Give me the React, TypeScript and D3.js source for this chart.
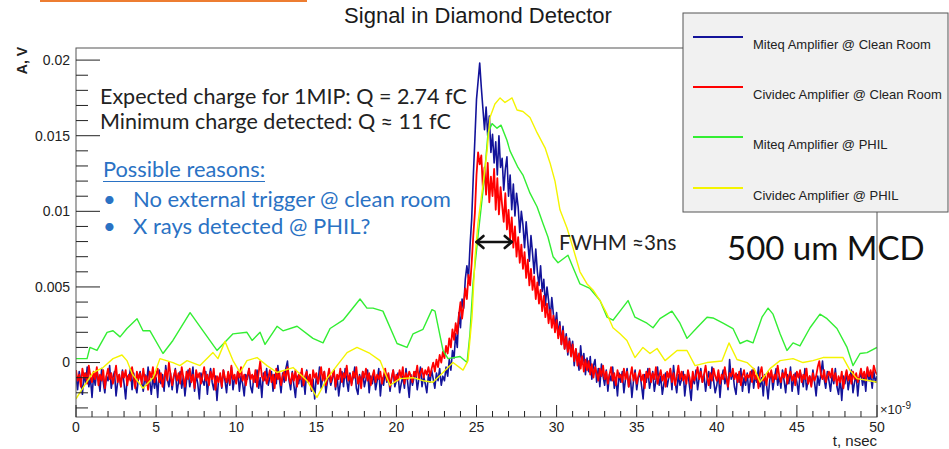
import React from 'react';
import * as d3 from 'd3';

// Oscilloscope traces, amplitude in mV, sampled every 0.1 ns from t = 0 (one row per ns)
const SAMPLE_STEP_NS = 0.1;

const miteqCleanRoom = [
  -0.9, -1.8, -0.6, -1.2, -2.1, -0.7, -1.4, -0.3, -1.6, -1.0,
  -2.3, -0.8, -1.5, -0.5, -1.1, -1.9, -0.4, -1.3, -2.0, -0.9,
  -1.2, -0.2, -1.7, -1.0, -0.6, -2.2, -1.3, -0.8, -1.6, -0.5,
  -1.4, -2.4, -0.9, -1.1, -0.4, -1.8, -0.7, -1.5, -2.0, -1.0,
  -0.6, -1.3, -1.9, -0.8, -1.5, -0.3, -1.2, -2.1, -0.9, -1.7,
  -1.0, -2.3, -0.5, -1.4, -0.8, -1.9, -0.2, -1.1, -1.6, -0.7,
  -1.8, -1.0, -0.4, -2.0, -1.3, -0.6, -1.7, -0.9, -2.2, -1.2,
  -0.5, -1.6, -1.1, -0.3, -1.9, -0.8, -1.4, -2.4, -0.7, -1.2,
  -1.5, -0.6, -2.1, -1.0, -0.4, -1.3, -1.8, -0.9, -2.5, -1.1,
  -0.8, -1.7, -0.5, -1.2, -2.0, -0.7, -1.5, -0.3, -1.8, -1.0,
  -1.3, -0.6, -1.9, -0.9, -1.4, -2.2, -0.8, -1.1, -0.4, -1.6,
  -2.0, -0.9, -1.3, -0.5, -1.7, -1.0, -2.3, -0.7, -1.2, -0.4,
  -1.5, -1.0, -0.6, -1.9, -0.8, -1.4, -0.2, -1.1, -2.0, -0.7,
  -1.3, -0.4, 0.1, -1.2, -1.8, -0.6, -1.5, -2.3, -0.9, -1.4,
  -0.7, -1.6, -1.0, -2.1, -0.5, -1.3, -0.8, -1.9, -1.1, -2.4,
  -0.9, -1.4, -0.3, -1.7, -1.0, -0.6, -2.0, -1.2, -0.8, -1.5,
  -1.1, -0.5, -1.8, -0.9, -2.2, -1.3, -0.6, -1.6, -0.4, -1.2,
  -1.9, -0.7, -1.4, -1.0, -0.3, -1.7, -2.1, -0.8, -1.3, -0.6,
  -1.6, -1.1, -0.5, -2.0, -0.9, -1.4, -0.7, -1.8, -1.2, -0.4,
  -2.2, -1.0, -1.5, -0.6, -1.3, -0.8, -1.9, -1.1, -0.5, -1.6,
  -1.2, -0.7, -2.0, -1.4, -0.9, -1.7, -0.4, -1.3, -2.3, -0.8,
  -1.5, -1.0, -0.6, -1.8, -1.1, -0.3, -1.6, -0.9, -1.4, -2.0,
  -0.8, -1.3, -0.5, -1.1, -1.7, -0.7, -1.2, -0.4, -1.5, -0.9,
  -1.2, -0.3, -0.9, 0.2, -0.5, 0.8, 0.3, 1.9, 1.0, 3.3,
  2.3, 4.2, 3.6, 5.5, 6.4, 5.6, 7.8, 9.5, 12.3, 14.8,
  17.4, 18.6, 19.8, 18.2, 16.8, 15.4, 16.9, 15.0, 16.3, 13.9,
  15.1, 13.2, 14.6, 12.4, 15.0, 12.9, 13.5, 11.4, 12.8, 13.6,
  11.0, 12.4, 10.1, 11.8, 9.7, 11.2, 10.3, 8.6, 10.0, 9.1,
  7.6, 9.3, 8.0, 6.7, 8.4, 7.2, 5.9, 7.5, 6.0, 5.1,
  6.4, 4.7, 5.5, 3.8, 5.0, 4.1, 2.9, 4.3, 3.2, 2.4,
  3.3, 1.8, 2.7, 1.2, 2.4, 0.9, 1.9, 0.5, 1.6, 0.8,
  1.4, -0.2, 0.9, 0.3, -0.5, 1.1, -0.1, 0.6, -0.8, 0.3,
  -0.6, 0.4, -1.1, -0.2, 0.2, -1.3, -0.4, -1.6, -0.1, -0.9,
  -1.5, -0.5, -1.9, -0.8, -1.2, -0.3, -1.7, -1.0, -2.2, -0.7,
  -1.3, -0.6, -2.0, -1.1, -0.4, -1.6, -0.9, -2.3, -1.2, -0.5,
  -1.8, -1.0, -0.7, -1.5, -2.4, -0.8, -1.3, -0.4, -1.7, -1.1,
  -0.6, -1.9, -1.2, -0.3, -1.5, -0.9, -2.1, -1.4, -0.7, -1.6,
  -1.0, -0.5, -1.8, -0.2, -1.3, -2.0, -0.8, -1.5, -1.1, -0.6,
  -2.2, -1.2, -0.7, -1.6, -2.5, -0.9, -1.4, -0.5, -1.8, -1.0,
  -0.4, -1.3, -0.8, -1.9, -1.1, -0.6, -1.7, -0.3, -1.2, -2.0,
  -1.5, -0.7, -2.3, -1.0, -0.5, -1.4, -0.9, -1.8, 0.2, -1.1,
  -0.6, -1.6, -2.1, -0.8, -1.3, -0.4, -1.9, -1.0, -1.5, -0.7,
  -2.0, -1.1, -0.5, -1.7, -0.9, -1.3, -0.3, -1.6, -1.0, -2.2,
  -0.8, -1.4, -2.4, -1.2, -0.6, -1.8, -1.0, -0.4, -1.5, -0.9,
  -1.7, -0.5, -1.2, -2.0, -0.8, -1.4, -0.3, -1.9, -1.1, -0.7,
  -1.3, -2.1, -0.6, -1.0, -1.6, -0.4, -1.8, -1.2, -0.9, -1.5,
  -0.5, -1.3, -2.2, -0.9, -1.5, -0.7, 0.1, -1.1, -1.7, -0.6,
  -1.2, -1.9, -0.8, -1.4, -0.4, -1.6, -2.1, -1.0, -2.5, -0.9,
  -1.4, -0.6, -1.8, -1.1, -0.5, -2.0, -1.3, -0.8, -2.2, -1.0,
  -0.7, -1.5, -0.9, -1.9, -0.4, -1.2, -0.8, -1.7, -0.6, -1.3,
  -0.9,
];

const cividecCleanRoom = [
  -0.5, -1.2, -0.8, -1.6, -0.4, -1.0, -0.7, -1.4, -0.2, -0.9,
  -1.3, -0.6, -1.1, -0.3, -1.5, -0.8, -1.2, -0.5, -1.7, -0.9,
  -0.4, -1.1, -0.7, -1.4, -0.9, -0.2, -1.3, -0.8, -1.6, -0.6,
  -1.0, -0.5, -1.5, -0.8, -1.2, -0.3, -1.0, -1.7, -0.6, -1.1,
  -0.7, -1.4, -0.4, -1.2, -0.9, -1.8, -0.6, -1.0, -0.3, -1.3,
  -0.8, -0.4, -1.3, -0.7, -1.6, -1.0, -0.5, -1.2, 0.0, -0.8,
  -1.5, -0.9, -0.5, -1.2, -0.7, -1.4, -0.3, -1.0, -1.6, -0.6,
  -1.1, -0.4, -1.3, -0.8, -1.7, -0.5, -1.0, -0.7, -1.4, -0.9,
  -0.3, -1.2, -0.8, -1.5, -0.6, -1.1, -0.4, -1.8, -0.9, -1.3,
  -0.7, -1.6, -0.5, -1.0, -1.3, -0.6, -1.4, -0.2, -1.1, -0.8,
  -1.4, -0.6, -1.0, -0.3, -1.2, -0.8, -1.5, -0.9, -0.4, -1.1,
  -0.8, -1.3, -0.5, -1.6, -0.7, 0.1, -0.9, -1.2, -0.6, -1.4,
  -1.0, -0.5, -1.3, -0.8, -1.7, -0.4, -1.1, -0.7, -1.5, -0.9,
  -0.6, -1.2, -0.3, -1.0, -1.4, -0.7, -1.2, -0.5, -1.6, -0.8,
  -1.1, -0.4, -1.5, -0.9, -0.6, -1.3, -0.8, -1.8, -0.5, -1.0,
  -0.7, -1.4, -0.9, -0.3, -1.2, -0.6, -1.5, -1.0, -0.4, -1.3,
  -0.9, -0.5, -1.6, -0.8, -1.1, -0.4, -1.3, -0.7, -1.0, -0.2,
  -1.2, -0.8, -1.5, -0.6, -1.0, -0.3, -1.4, -0.9, -1.7, -0.6,
  -1.0, -0.4, -1.2, -0.7, -1.5, -0.9, -0.5, -1.3, -0.8, -1.1,
  -0.6, -1.4, -0.9, -0.4, -1.2, -0.7, -1.6, -1.0, -0.5, -1.3,
  -0.8, -1.2, -0.5, -1.0, -0.3, -1.4, -0.7, -1.1, -0.6, -0.9,
  -1.3, -0.6, -0.9, -0.2, -1.1, -0.7, -0.4, -1.0, -0.5, -0.8,
  -0.3, -0.9, -0.4, 0.0, -0.6, 0.2, -0.3, 0.5, 0.0, 0.7,
  0.3, 1.1, 0.6, 1.6, 1.0, 2.2, 1.5, 2.6, 1.9, 3.1,
  4.0, 2.9, 3.8, 4.9, 4.2, 5.8, 5.1, 6.6, 8.4, 9.9,
  12.4, 13.9, 13.1, 13.7, 11.5, 12.9, 11.1, 13.2, 10.6, 12.3,
  11.0, 12.8, 10.1, 12.2, 9.8, 11.6, 10.4, 9.3, 11.2, 8.8,
  10.1, 8.2, 9.6, 7.6, 9.0, 7.0, 8.3, 6.6, 7.8, 6.2,
  7.3, 5.6, 6.8, 5.1, 6.2, 4.8, 5.7, 4.2, 5.3, 3.9,
  4.8, 3.4, 4.4, 3.0, 3.9, 2.6, 3.5, 2.3, 3.1, 2.0,
  2.8, 1.6, 2.4, 1.2, 2.1, 0.9, 1.7, 0.7, 1.4, 0.4,
  1.2, 0.1, 0.9, -0.2, 0.6, -0.4, 0.4, -0.6, 0.2, -0.5,
  0.1, -0.8, -0.1, -1.0, -0.3, -0.7, -1.2, -0.4, -0.9, -0.2,
  -1.1, -0.6, -1.4, -0.8, -0.3, -1.2, -0.7, -1.5, -0.5, -1.0,
  -0.8, -1.3, -0.4, -1.1, -0.6, -1.6, -0.9, -0.3, -1.2, -0.7,
  -1.4, -0.9, -0.5, -1.2, -0.8, -1.7, -0.6, -1.0, -0.4, -1.3,
  -0.7, -1.1, -0.3, -1.4, -0.9, -0.5, -1.2, -0.8, -1.6, -0.6,
  -1.0, -0.4, -1.3, -0.7, -1.5, -0.9, -0.2, -1.1, -0.6, -1.2,
  -0.8, -1.4, -0.5, -1.0, -1.7, -0.6, -1.2, -0.9, -0.3, -1.1,
  -0.6, -1.3, -0.8, -0.2, -1.0, -1.5, -0.7, -1.2, -0.4, -0.9,
  -1.2, -0.5, -1.4, -0.8, -1.1, -0.3, -1.0, -1.6, -0.7, -0.9,
  -0.4, -1.1, -0.7, -1.3, -0.6, -1.5, -0.9, -0.5, -1.2, -0.8,
  -1.0, -0.6, -1.3, -0.4, -1.1, -0.8, -1.7, -0.7, -0.3, -1.2,
  -0.9, -1.5, -0.6, -1.0, -0.5, -1.3, -0.8, -1.1, -0.2, -0.9,
  -1.3, -0.7, -1.0, -0.4, -1.4, -0.9, -0.6, -1.2, -0.8, -1.5,
  -0.6, -1.0, -0.5, -1.3, -0.8, -1.1, -0.4, -1.4, -0.9, -1.6,
  -0.7, -1.2, -0.9, -0.3, 0.1, -0.8, -1.1, -0.5, -1.3, -0.9,
  -0.6, -1.0, -0.4, -1.2, -0.7, -1.5, -0.9, -1.3, -0.6, -1.7,
  -1.0, -0.5, -1.2, -0.8, -1.4, -0.6, -1.1, -0.7, -1.3, -0.9,
  -0.4, -1.0, -0.6, -1.2, -0.3, -0.9, -0.5, -1.0, -0.2, -0.6,
  -0.8,
];

// Smoother PHIL traces as [t (ns), amplitude (mV)]
const miteqPhil: [number, number][] = [
  [0.0, 0.26], [0.69, 0.26], [0.87, 1.0], [1.31, 0.8], [1.94, 2.0], [2.31, 2.1],
  [2.75, 1.7], [3.18, 2.25], [3.81, 2.9], [4.18, 2.1], [4.62, 2.1], [5.43, 0.6],
  [6.05, 1.46], [7.12, 3.3], [7.93, 2.1], [8.8, 0.8], [9.8, 1.9], [10.67, 2.0],
  [10.99, 1.46], [11.49, 2.0], [11.8, 1.2], [12.55, 2.4], [12.92, 2.1], [13.8, 2.4],
  [14.79, 1.6], [15.42, 1.3], [15.86, 2.25], [16.67, 2.8], [17.73, 4.2], [18.16, 3.6],
  [18.54, 3.6], [19.16, 3.4], [20.04, 1.26], [20.66, 1.0], [21.04, 1.9], [21.66, 2.2],
  [22.22, 3.5], [22.41, 3.4], [22.91, 0.8], [23.22, 0.26], [23.97, 0.4], [24.41, 0.0],
  [24.59, 1.9], [24.78, 5.2], [25.09, 8.3], [25.41, 11.4], [25.72, 15.2], [25.97, 15.8],
  [26.28, 15.5], [26.53, 15.7], [26.9, 14.7], [27.09, 14.0], [27.59, 12.9], [27.9, 12.4],
  [28.34, 11.2], [28.78, 10.3], [29.15, 9.2], [29.46, 8.3], [29.78, 7.0], [30.09, 6.6],
  [30.71, 7.1], [31.02, 6.3], [31.46, 5.2], [32.08, 4.9], [32.71, 4.1], [33.15, 3.0],
  [33.52, 2.8], [33.96, 3.4], [34.46, 4.1], [34.89, 3.0], [35.64, 2.6], [36.02, 2.3],
  [36.45, 2.9], [37.2, 3.4], [37.7, 2.6], [38.14, 1.6], [38.76, 2.3], [39.39, 3.0],
  [39.76, 2.95], [40.39, 2.6], [41.01, 2.25], [41.45, 1.26], [41.89, 1.46], [42.26, 1.3],
  [42.82, 3.0], [43.2, 3.6], [43.51, 3.2], [43.95, 1.9], [44.38, 0.8], [44.76, 1.3],
  [45.19, 1.1], [45.82, 2.3], [46.44, 3.2], [46.88, 2.9], [47.5, 2.25], [48.13, 1.0],
  [48.5, -0.2], [48.94, 0.6], [49.38, 0.66], [50.0, 1.0],
];

const cividecPhil: [number, number][] = [
  [0.0, -2.4], [0.44, -1.66], [1.06, -0.66], [1.69, -0.33], [2.31, 0.26], [2.87, 0.5],
  [3.18, 0.13], [3.5, -0.73], [4.18, -1.7], [4.81, -1.0], [5.24, 0.26], [6.05, 0.0],
  [6.49, -0.2], [6.93, 0.13], [7.74, -0.2], [8.55, 0.66], [8.86, 0.26], [9.3, 1.4],
  [9.8, 0.13], [10.24, -0.66], [10.67, 0.13], [11.3, 0.33], [11.92, -0.2], [12.55, -0.66],
  [13.55, -0.33], [14.42, -1.2], [15.04, -2.3], [15.67, -1.06], [16.29, -0.2], [16.92, 0.66],
  [17.54, 1.0], [18.35, 0.6], [18.98, 0.13], [19.6, -1.5], [20.22, -1.06], [21.04, -1.0],
  [21.66, -1.2], [22.28, -1.3], [22.91, -0.66], [23.53, 0.0], [24.16, -0.5], [24.47, 0.13],
  [24.72, 3.0], [24.91, 7.0], [25.09, 9.2], [25.41, 11.8], [25.66, 14.0], [25.84, 16.2],
  [26.15, 17.1], [26.47, 17.5], [26.78, 17.2], [27.22, 17.5], [27.53, 16.7], [27.9, 16.6],
  [28.34, 16.2], [28.78, 15.2], [29.28, 14.2], [29.59, 13.2], [29.9, 12.0], [30.21, 10.1],
  [30.65, 8.9], [31.02, 7.6], [31.46, 6.0], [31.9, 5.2], [32.27, 4.8], [32.71, 4.1],
  [33.15, 3.2], [33.52, 2.3], [33.96, 1.9], [34.39, 1.46], [34.89, 0.33], [35.39, 1.0],
  [35.83, 0.6], [36.27, 0.93], [36.77, 0.13], [37.52, 0.8], [38.14, 0.8], [38.64, -0.2],
  [39.39, 0.0], [40.32, 0.1], [40.76, 1.3], [41.26, 0.2], [41.89, 0.0], [42.38, -0.5],
  [42.7, -1.3], [43.32, -0.4], [43.95, 0.13], [44.76, 0.26], [45.38, 0.0], [46.0, 0.13],
  [46.63, 0.33], [47.25, 0.33], [47.88, 0.33], [48.31, -0.5], [48.75, -1.06], [49.56, -1.2],
  [50.0, -1.3],
];

const seriesNames = [
  'Miteq Amplifier @ Clean Room',
  'Cividec Amplifier @ Clean Room',
  'Miteq Amplifier @ PHIL',
  'Cividec Amplifier @ PHIL',
];
const seriesColors = ['#13139a', '#ff0000', '#33ee33', '#f4f400'];

const xMajorTicks = [0, 5, 10, 15, 20, 25, 30, 35, 40, 45, 50];
const yMajorTicks = [0, 0.005, 0.01, 0.015, 0.02];
const yTickLabels = ['0', '0.005', '0.01', '0.015', '0.02'];

const W = 949;
const H = 449;
const plot = { left: 76, right: 877, top: 48, bottom: 417 };

const ROOT_FONT = '"Liberation Sans", Arial, sans-serif';
const SLIDE_FONT = 'Lato, "Open Sans", sans-serif';

export default function App() {
  const x = d3.scaleLinear().domain([0, 50]).range([plot.left, plot.right]);
  const y = d3.scaleLinear().domain([-0.0036, 0.0208]).range([plot.bottom, plot.top]);

  const line = d3
    .line<[number, number]>()
    .x((d) => x(d[0]))
    .y((d) => y(d[1] * 1e-3));

  const sampled = (vals: number[]) =>
    vals.map((v, i) => [i * SAMPLE_STEP_NS, v] as [number, number]);

  const traces: [number, number][][] = [
    sampled(miteqCleanRoom),
    sampled(cividecCleanRoom),
    miteqPhil,
    cividecPhil,
  ];
  const widths = [1.6, 1.8, 1.4, 1.4];

  const xMinor = d3.range(0, 51, 1).filter((t) => t % 5 !== 0);
  const yMinor = d3
    .range(-3, 21, 1)
    .filter((k) => k % 5 !== 0)
    .map((k) => k / 1000);

  const legend = { x: 683, y: 13, w: 265, h: 199 };
  const legendRows = [37, 87, 137, 188];

  return (
    <svg
      width={W}
      height={H}
      viewBox={`0 0 ${W} ${H}`}
      style={{ position: 'absolute', left: 0, top: 0, background: '#fff' }}
    >
      <rect x={40} y={0} width={267} height={2} fill="#ed7d31" />

      <text
        x={478}
        y={23}
        textAnchor="middle"
        fontFamily={ROOT_FONT}
        fontSize={22}
        fill="#1a1a1a"
      >
        Signal in Diamond Detector
      </text>

      <defs>
        <clipPath id="plot-area">
          <rect
            x={plot.left}
            y={plot.top}
            width={plot.right - plot.left}
            height={plot.bottom - plot.top}
          />
        </clipPath>
      </defs>

      {/* traces */}
      <g clipPath="url(#plot-area)" fill="none">
        {traces.map((tr, i) => (
          <path
            key={seriesNames[i]}
            d={line(tr) || ''}
            stroke={seriesColors[i]}
            strokeWidth={widths[i]}
            strokeLinejoin="round"
          />
        ))}
      </g>

      {/* frame */}
      <rect
        x={plot.left}
        y={plot.top}
        width={plot.right - plot.left}
        height={plot.bottom - plot.top}
        fill="none"
        stroke="#555"
        strokeWidth={1}
      />

      {/* axis ticks */}
      <g stroke="#222" strokeWidth={1}>
        {yMajorTicks.map((v) => (
          <line key={`ym${v}`} x1={plot.left} x2={plot.left + 24} y1={y(v)} y2={y(v)} />
        ))}
        {yMinor.map((v) => (
          <line key={`yn${v}`} x1={plot.left} x2={plot.left + 12} y1={y(v)} y2={y(v)} />
        ))}
        {xMajorTicks.map((t) => (
          <line key={`xm${t}`} x1={x(t)} x2={x(t)} y1={plot.bottom} y2={plot.bottom - 12} />
        ))}
        {xMinor.map((t) => (
          <line key={`xn${t}`} x1={x(t)} x2={x(t)} y1={plot.bottom} y2={plot.bottom - 6} />
        ))}
      </g>

      <g fontFamily={ROOT_FONT} fontSize={14} fill="#222">
        {yMajorTicks.map((v, i) => (
          <text key={`yl${v}`} x={plot.left - 6} y={y(v)} dy="0.35em" textAnchor="end">
            {yTickLabels[i]}
          </text>
        ))}
        {xMajorTicks.map((t) => (
          <text key={`xl${t}`} x={x(t)} y={plot.bottom + 15} textAnchor="middle">
            {t}
          </text>
        ))}
        <text x={plot.right + 3} y={plot.bottom - 3} fontSize={13}>
          ×10
          <tspan dy={-5} fontSize={10}>
            -9
          </tspan>
        </text>
        <text x={plot.right} y={446} textAnchor="end" fontSize={15}>
          t, nsec
        </text>
        <text
          transform={`translate(27, 47) rotate(-90)`}
          textAnchor="end"
          fontSize={14}
          fontWeight="bold"
        >
          A, V
        </text>
      </g>

      {/* legend */}
      <rect
        x={legend.x}
        y={legend.y}
        width={legend.w}
        height={legend.h}
        fill="#f1f1f1"
        stroke="#555"
        strokeWidth={1}
      />
      {seriesNames.map((name, i) => (
        <g key={`lg${name}`}>
          <line
            x1={legend.x + 10}
            x2={legend.x + 60}
            y1={legendRows[i]}
            y2={legendRows[i]}
            stroke={seriesColors[i]}
            strokeWidth={1.8}
          />
          <text
            x={legend.x + 70}
            y={legendRows[i] + 12}
            fontFamily={ROOT_FONT}
            fontSize={13}
            fill="#222"
          >
            {name}
          </text>
        </g>
      ))}

      {/* annotations */}
      <g fontFamily={SLIDE_FONT} fill="#222" fontSize={21.5}>
        <text x={100} y={104}>Expected charge for 1MIP: Q = 2.74 fC</text>
        <text x={100} y={129}>Minimum charge detected: Q ≈ 11 fC</text>
      </g>
      <g fontFamily={SLIDE_FONT} fill="#2a72c4">
        <text x={103} y={177} fontSize={21.8}>Possible reasons:</text>
        <line x1={103} x2={265} y1={181.5} y2={181.5} stroke="#2a72c4" strokeWidth={1.2} />
        <text x={103} y={207} fontSize={22}>•</text>
        <text x={133} y={207} fontSize={22}>No external trigger @ clean room</text>
        <text x={103} y={234} fontSize={22}>•</text>
        <text x={133} y={234} fontSize={22}>X rays detected @ PHIL?</text>
      </g>

      <g stroke="#111" strokeWidth={2.6} fill="none" strokeLinecap="round" strokeLinejoin="round">
        <line x1={x(25)} x2={x(27.2)} y1={242} y2={242} />
        <path d={`M${x(25) + 7},236 L${x(25)},242 L${x(25) + 7},248`} />
        <path d={`M${x(27.2) - 7},236 L${x(27.2)},242 L${x(27.2) - 7},248`} />
      </g>
      <text x={559} y={250} fontFamily={SLIDE_FONT} fontSize={20.6} fill="#222">
        FWHM ≈3ns
      </text>
      <text x={727} y={260} fontFamily={SLIDE_FONT} fontSize={33} fill="#111">
        500 um MCD
      </text>
    </svg>
  );
}
